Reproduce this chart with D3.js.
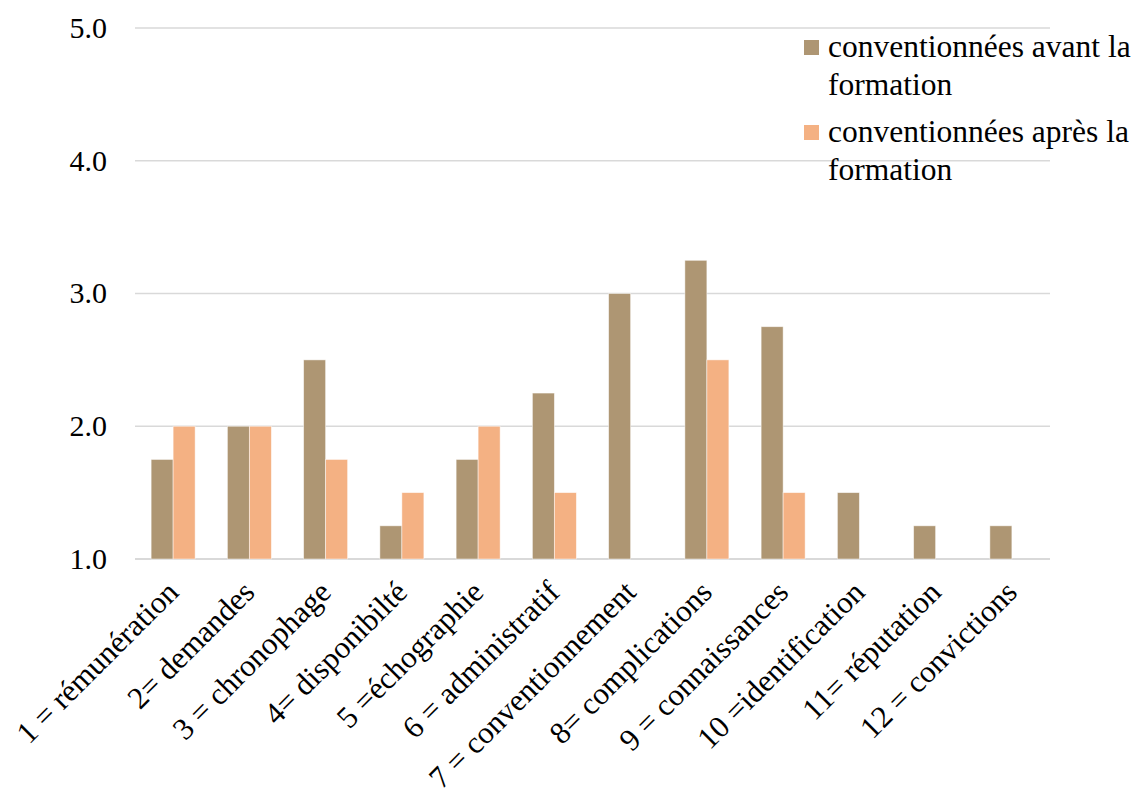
<!DOCTYPE html>
<html>
<head>
<meta charset="utf-8">
<script src="https://cdn.jsdelivr.net/npm/d3@7"></script>
<style>
  html, body { margin: 0; padding: 0; background: #fff; }
  svg { display: block; }
</style>
</head>
<body>
<svg id="chart" width="1137" height="796"></svg>
<script>
// Mean scores per barrier, before and after training
const categories = [
  "1 = rémunération", "2= demandes", "3 = chronophage", "4= disponibilté",
  "5 =échographie", "6 = administratif", "7 = conventionnement", "8= complications",
  "9 = connaissances", "10 =identification", "11= réputation", "12 = convictions"
];
const seriesNames = ["conventionnées avant la formation", "conventionnées après la formation"];
const avant = [1.75, 2.0, 2.5, 1.25, 1.75, 2.25, 3.0, 3.25, 2.75, 1.5, 1.25, 1.25];
const apres = [2.0, 2.0, 1.75, 1.5, 2.0, 1.5, null, 2.5, 1.5, null, null, null];
const yTicks = [1, 2, 3, 4, 5];
const seriesColors = ["#AE9673", "#F4B183"];
const legendLines = [["conventionnées avant la", "formation"], ["conventionnées après la", "formation"]];

const FONT = "'Liberation Serif', 'Times New Roman', serif";
const svg = d3.select("#chart");
const plotLeft = 135, plotRight = 1050, plotTop = 28, plotBottom = 559;

const y = d3.scaleLinear().domain([1, 5]).range([plotBottom, plotTop]);
const x0 = d3.scaleBand().domain(categories).range([plotLeft, plotRight])
  .paddingInner(0.423).paddingOuter(0.2115);
const x1 = d3.scaleBand().domain(seriesNames).range([0, x0.bandwidth()]);

// horizontal gridlines
svg.append("g").selectAll("line").data(yTicks).join("line")
  .attr("x1", plotLeft).attr("x2", plotRight)
  .attr("y1", d => y(d)).attr("y2", d => y(d))
  .attr("stroke", "#d9d9d9")
  .attr("stroke-width", d => d === 1 ? 2 : 1.3);

// y tick labels
svg.append("g").selectAll("text").data(yTicks).join("text")
  .attr("x", 107).attr("y", d => y(d))
  .attr("dy", "0.33em")
  .attr("text-anchor", "end")
  .attr("font-family", FONT)
  .attr("font-size", 30)
  .attr("fill", "#000")
  .text(d => d3.format(".1f")(d));

// bars
const seriesData = [avant, apres];
seriesData.forEach((vals, si) => {
  svg.append("g").selectAll("rect")
    .data(vals.map((v, i) => ({ cat: categories[i], v })).filter(d => d.v != null))
    .join("rect")
    .attr("x", d => x0(d.cat) + x1(seriesNames[si]))
    .attr("width", x1.bandwidth())
    .attr("y", d => y(d.v))
    .attr("height", d => y(1) - y(d.v))
    .attr("fill", seriesColors[si])
    .attr("stroke", "#ffffff")
    .attr("stroke-opacity", 0.6)
    .attr("stroke-width", 0.8);
});

// rotated category labels
svg.append("g").selectAll("text").data(categories).join("text")
  .attr("transform", d => `translate(${x0(d) + x0.bandwidth() / 2 + 7},594) rotate(-45)`)
  .attr("text-anchor", "end")
  .attr("font-family", FONT)
  .attr("font-size", 31)
  .attr("fill", "#000")
  .text(d => d);

// legend
const legend = svg.append("g");
legendLines.forEach((lines, i) => {
  const g = legend.append("g").attr("transform", `translate(804,${40 + i * 85})`);
  g.append("rect").attr("width", 15).attr("height", 15).attr("fill", seriesColors[i]);
  lines.forEach((t, j) => {
    g.append("text").attr("x", 24).attr("y", 17 + j * 38)
      .attr("font-family", FONT)
      .attr("font-size", 31.5)
      .attr("fill", "#000")
      .text(t);
  });
});
</script>
</body>
</html>
